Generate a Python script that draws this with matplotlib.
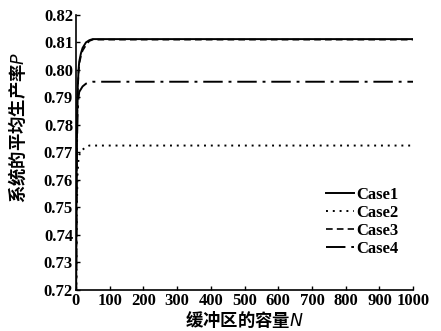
import matplotlib
matplotlib.use("Agg")
import matplotlib.pyplot as plt

N = [1, 2, 3, 5, 8, 10, 15, 20, 30, 40, 50, 100, 200, 300, 400, 500, 600, 700, 800, 900, 1000]
case1 = [0.722, 0.755, 0.775, 0.792, 0.800, 0.803, 0.806, 0.808, 0.810, 0.8108, 0.8112, 0.8112, 0.8112, 0.8112, 0.8112,
         0.8112, 0.8112, 0.8112, 0.8112, 0.8112, 0.8112]
case2 = [0.700, 0.735, 0.750, 0.762, 0.768, 0.769, 0.7705, 0.771, 0.772, 0.7725, 0.7725, 0.7725, 0.7725, 0.7725, 0.7725,
         0.7725, 0.7725, 0.7725, 0.7725, 0.7725, 0.7725]
case3 = [0.720, 0.752, 0.772, 0.790, 0.799, 0.802, 0.805, 0.807, 0.809, 0.8105, 0.811, 0.811, 0.811, 0.811, 0.811,
         0.811, 0.811, 0.811, 0.811, 0.811, 0.811]
case4 = [0.715, 0.750, 0.770, 0.784, 0.790, 0.792, 0.793, 0.794, 0.795, 0.7955, 0.7957, 0.7957, 0.7957, 0.7957, 0.7957,
         0.7957, 0.7957, 0.7957, 0.7957, 0.7957, 0.7957]
labels = ["Case1", "Case2", "Case3", "Case4"]
xticks = list(range(0, 1001, 100))
yticks = [0.72, 0.73, 0.74, 0.75, 0.76, 0.77, 0.78, 0.79, 0.80, 0.81, 0.82]

serif = ["Liberation Serif", "DejaVu Serif"]
cjk = ["Noto Sans CJK SC", "DejaVu Sans"]

fig = plt.figure(figsize=(4.41, 3.31), dpi=100)
ax = fig.add_axes([0.172, 0.124, 0.765, 0.831])

ax.plot(N, case1, color="black", lw=1.4, ls="-", label=labels[0])
ax.plot(N, case2, color="black", lw=1.4, ls=(0, (1, 2.5)), label=labels[1])
ax.plot(N, case3, color="black", lw=1.2, ls=(0, (4, 2.5)), label=labels[2])
ax.plot(N, case4, color="black", lw=1.4, ls=(0, (10, 3, 1.5, 3)), label=labels[3])

ax.set_xlim(0, 1000)
ax.set_ylim(0.72, 0.82)
ax.set_xticks(xticks)
ax.set_yticks(yticks)
ax.set_xticklabels([str(t) for t in xticks], family=serif, fontweight="bold", fontsize=12)
ax.set_yticklabels([f"{t:.2f}" for t in yticks], family=serif, fontweight="bold", fontsize=12)
ax.tick_params(direction="in", length=3, width=1, pad=2)
ax.spines["top"].set_visible(False)
ax.spines["right"].set_visible(False)
ax.spines["left"].set_linewidth(1.2)
ax.spines["bottom"].set_linewidth(1.2)

ax.set_xlabel("缓冲区的容量$\\mathit{N}$", family=cjk, fontsize=12.5, fontweight="bold", labelpad=1)
ax.set_ylabel("系统的平均生产率$\\mathit{P}$", family=cjk, fontsize=12.5, fontweight="bold")
ax.yaxis.set_label_coords(-0.142, 0.59)

leg = ax.legend(loc="lower right", bbox_to_anchor=(1.0, 0.065), frameon=False,
                prop={"family": serif, "weight": "bold", "size": 12},
                handlelength=1.7, handletextpad=0.1, labelspacing=0.12)

fig.savefig("out.png", dpi=100)
